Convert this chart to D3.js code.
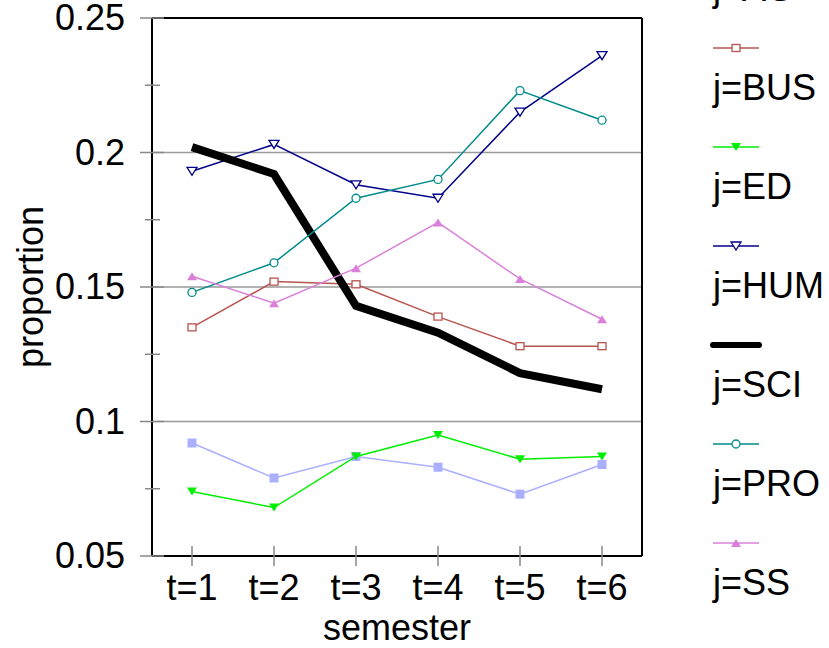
<!DOCTYPE html><html><head><meta charset="utf-8">
<script src="https://cdn.jsdelivr.net/npm/d3@7"></script>
<style>body{margin:0;background:#fff}text{font-family:"Liberation Sans",Arial,sans-serif}</style></head><body>
<svg id="c" width="829" height="648"></svg>
<script>
const semesters=["t=1","t=2","t=3","t=4","t=5","t=6"];
const yTicks=[0.05,0.1,0.15,0.2,0.25];
const yTickLabels=["0.05","0.1","0.15","0.2","0.25"];
const minorTicks=[0.075,0.125,0.175,0.225];
const gridVals=[0.1,0.15,0.2];
const AG=[0.092,0.079,0.087,0.083,0.073,0.084];
const BUS=[0.135,0.152,0.151,0.139,0.128,0.128];
const ED=[0.074,0.068,0.087,0.095,0.086,0.087];
const HUM=[0.193,0.203,0.188,0.183,0.215,0.236];
const SCI=[0.202,0.192,0.143,0.133,0.118,0.112];
const PRO=[0.148,0.159,0.183,0.190,0.223,0.212];
const SS=[0.154,0.144,0.157,0.174,0.153,0.138];
const series=[
 {name:"j=AG",v:AG,c:"#aab0ff",m:"sqf",w:1.5},
 {name:"j=BUS",v:BUS,c:"#b8524e",m:"sq",w:1.5},
 {name:"j=ED",v:ED,c:"#00ee00",m:"tri",w:1.5},
 {name:"j=HUM",v:HUM,c:"#000088",m:"trio",w:1.5},
 {name:"j=SCI",v:SCI,c:"#000",m:"none",w:8},
 {name:"j=PRO",v:PRO,c:"#008b8b",m:"circ",w:1.5},
 {name:"j=SS",v:SS,c:"#da80da",m:"tup",w:1.5}];
const FS=36;
const svg=d3.select("#c");
const L=152,R=642,T=18,B=556;
const x=d3.scalePoint().domain(semesters).range([192,602]);
const y=d3.scaleLinear().domain([0.05,0.25]).range([B,T]);
svg.selectAll(".g").data(gridVals).join("line").attr("x1",L).attr("x2",R).attr("y1",d=>y(d)).attr("y2",d=>y(d)).attr("stroke","#999").attr("stroke-width",1.5);
[[L,T,R,T],[R,T,R,B],[L,B,R,B],[L,T,L,B]].forEach(a=>svg.append("line").attr("x1",a[0]).attr("y1",a[1]).attr("x2",a[2]).attr("y2",a[3]).attr("stroke","#000").attr("stroke-width",2));
svg.selectAll(".yt").data(yTicks).join("line").attr("x1",140).attr("x2",164).attr("y1",d=>y(d)).attr("y2",d=>y(d)).attr("stroke","#888").attr("stroke-width",1.5);
svg.selectAll(".ymt").data(minorTicks).join("line").attr("x1",145).attr("x2",160).attr("y1",d=>y(d)).attr("y2",d=>y(d)).attr("stroke","#888").attr("stroke-width",1.5);
svg.selectAll(".xt").data(semesters).join("line").attr("x1",d=>x(d)).attr("x2",d=>x(d)).attr("y1",546).attr("y2",566).attr("stroke","#888").attr("stroke-width",1.5);
svg.selectAll(".yl").data(yTicks).join("text").attr("x",125).attr("y",d=>y(d)+12).attr("text-anchor","end").attr("font-size",FS).text((d,i)=>yTickLabels[i]);
svg.selectAll(".xl").data(semesters).join("text").attr("x",d=>x(d)).attr("y",600).attr("text-anchor","middle").attr("font-size",FS).text(d=>d);
svg.append("text").attr("x",397).attr("y",640).attr("text-anchor","middle").attr("font-size",FS).text("semester");
svg.append("text").attr("transform","translate(43,287) rotate(-90)").attr("text-anchor","middle").attr("font-size",FS).text("proportion");
function marker(g,s,cx,cy){
 if(s.m==="sqf")g.append("rect").attr("x",cx-4.5).attr("y",cy-4.5).attr("width",9).attr("height",9).attr("fill",s.c);
 if(s.m==="sq")g.append("rect").attr("x",cx-4).attr("y",cy-3.5).attr("width",8).attr("height",7).attr("fill","#fff").attr("stroke",s.c).attr("stroke-width",1.3);
 if(s.m==="tri")g.append("path").attr("d",`M${cx-5},${cy-4}L${cx+5},${cy-4}L${cx},${cy+4}Z`).attr("fill",s.c);
 if(s.m==="trio")g.append("path").attr("d",`M${cx-5},${cy-4}L${cx+5},${cy-4}L${cx},${cy+4}Z`).attr("fill","#fff").attr("stroke",s.c).attr("stroke-width",1.3);
 if(s.m==="circ")g.append("circle").attr("cx",cx).attr("cy",cy).attr("r",4).attr("fill","#fff").attr("stroke",s.c).attr("stroke-width",1.3);
 if(s.m==="tup")g.append("path").attr("d",`M${cx-5},${cy+4}L${cx+5},${cy+4}L${cx},${cy-4}Z`).attr("fill",s.c);
}
const line=d3.line().x((d,i)=>x(semesters[i])).y(d=>y(d));
series.forEach((s,k)=>{
 const g=svg.append("g");
 g.append("path").attr("d",line(s.v)).attr("fill","none").attr("stroke",s.c).attr("stroke-width",s.w);
 s.v.forEach((v,i)=>marker(g,s,x(semesters[i]),y(v)));
 const ly=48+(k-1)*99, lg=svg.append("g");
 lg.append("line").attr("x1",713).attr("x2",759).attr("y1",ly).attr("y2",ly).attr("stroke",s.c).attr("stroke-width",s.w===8?6:1.5).attr("stroke-linecap",s.w===8?"round":"butt");
 marker(lg,s,736,ly);
 lg.append("text").attr("x",713).attr("y",ly+52).attr("font-size",FS).text(s.name);
});
</script></body></html>
